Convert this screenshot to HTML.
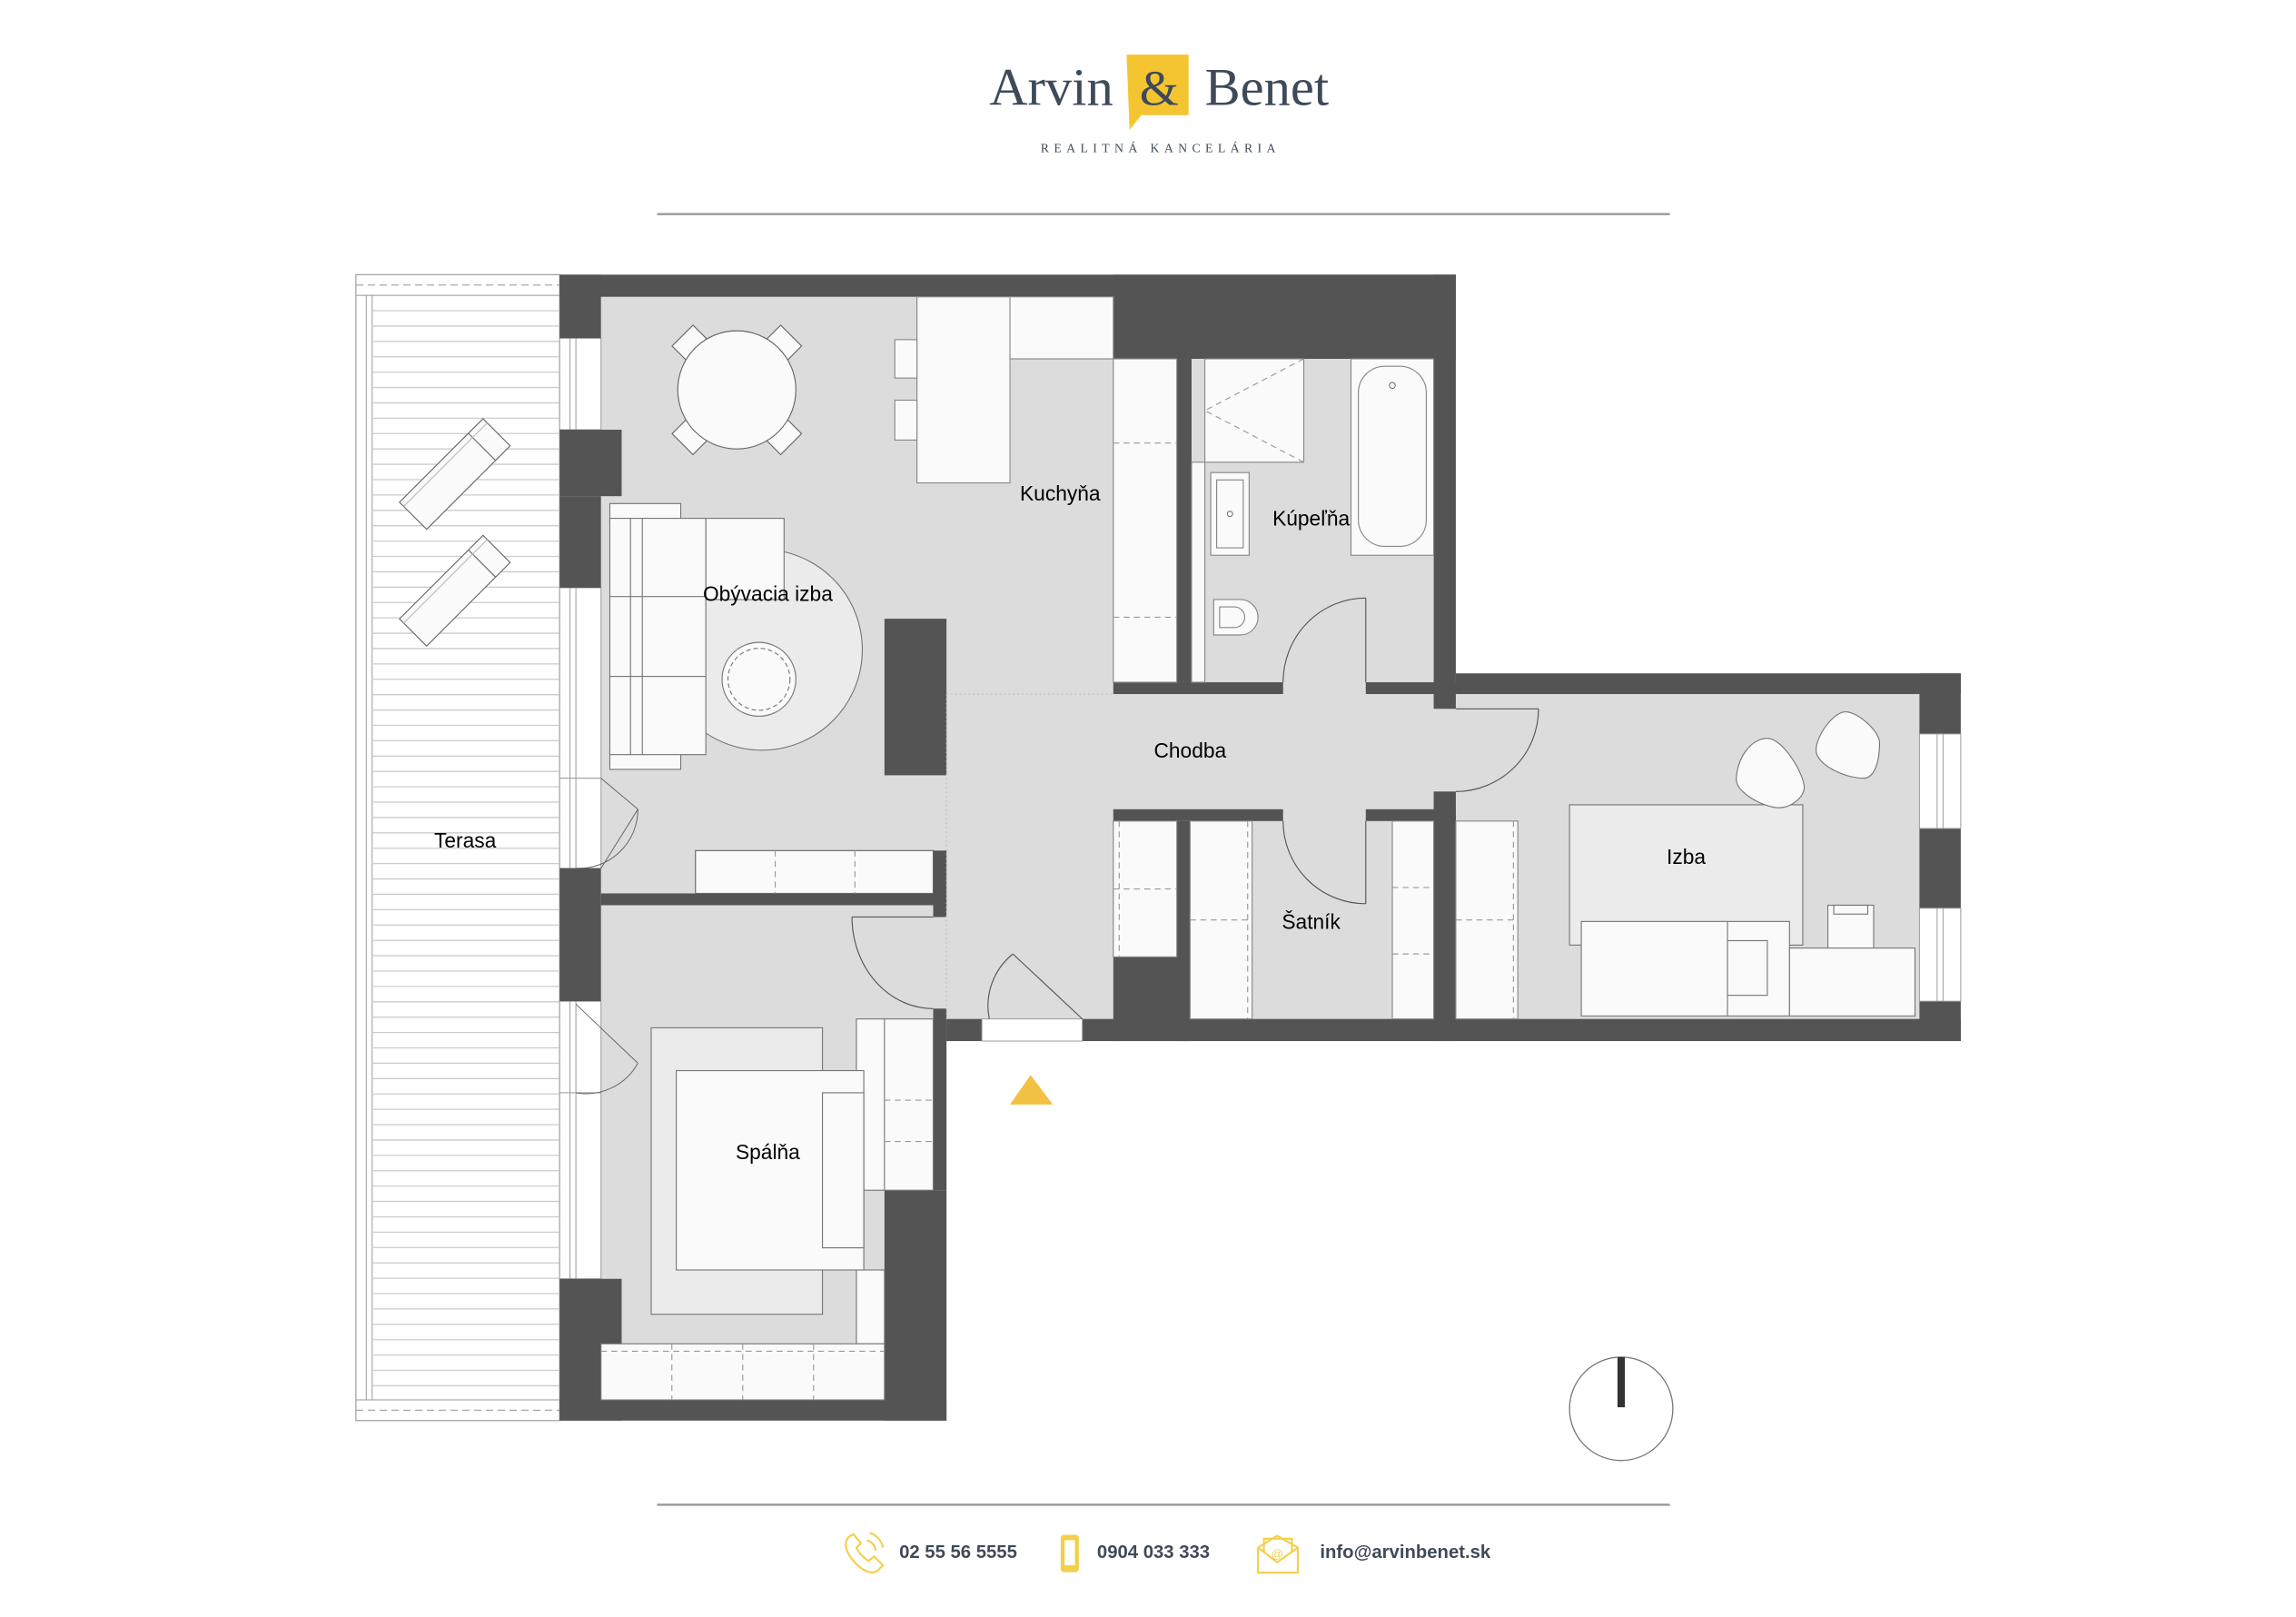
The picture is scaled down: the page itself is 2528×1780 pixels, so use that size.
<!DOCTYPE html>
<html><head><meta charset="utf-8"><style>
html,body{margin:0;padding:0;background:#fff}
svg{display:block}
</style></head><body>
<svg width="2528" height="1780" viewBox="0 0 1555 1095" xmlns="http://www.w3.org/2000/svg">
<rect width="1555" height="1095" fill="#fff"/>
<!-- Logo -->
<path d="M763 37 H805 V78 H773 L765 88 Z" fill="#f5c531"/>
<text x="712" y="71" font-family="Liberation Serif, serif" font-size="36" fill="#3e4a59" text-anchor="middle">Arvin</text>
<text x="785" y="71" font-family="Liberation Serif, serif" font-size="34" fill="#3e4a59" text-anchor="middle">&amp;</text>
<text x="858" y="71" font-family="Liberation Serif, serif" font-size="36" fill="#3e4a59" text-anchor="middle">Benet</text>
<text x="786" y="103" font-family="Liberation Serif, serif" font-size="8.5" fill="#3e4a59" text-anchor="middle" letter-spacing="3.3">REALITNÁ KANCELÁRIA</text>
<line x1="445" y1="145" x2="1131" y2="145" stroke="#999" stroke-width="1.5"/>

<!-- Terrace -->
<rect x="241" y="186" width="138" height="776" fill="#fff" stroke="#999" stroke-width="0.7"/>
<line x1="248" y1="200" x2="248" y2="948" stroke="#999" stroke-width="0.6"/>
<line x1="252" y1="200" x2="252" y2="948" stroke="#999" stroke-width="0.6"/>
<line x1="241" y1="200" x2="379" y2="200" stroke="#999" stroke-width="0.6"/>
<line x1="241" y1="948" x2="379" y2="948" stroke="#999" stroke-width="0.6"/>
<line x1="241" y1="193" x2="379" y2="193" stroke="#aaa" stroke-width="0.8" stroke-dasharray="5 3"/>
<line x1="241" y1="955" x2="379" y2="955" stroke="#aaa" stroke-width="0.8" stroke-dasharray="5 3"/>
<g stroke="#ccc" stroke-width="0.8">
<path d="M252 210.4H379M252 220.8H379M252 231.2H379M252 241.6H379M252 252H379M252 262.4H379M252 272.8H379M252 283.2H379M252 293.6H379M252 304H379M252 314.4H379M252 324.8H379M252 335.2H379M252 345.6H379M252 356H379M252 366.4H379M252 376.8H379M252 387.2H379M252 397.6H379M252 408H379M252 418.4H379M252 428.8H379M252 439.2H379M252 449.6H379M252 460H379M252 470.4H379M252 480.8H379M252 491.2H379M252 501.6H379M252 512H379M252 522.4H379M252 532.8H379M252 543.2H379M252 553.6H379M252 564H379M252 574.4H379M252 584.8H379M252 595.2H379M252 605.6H379M252 616H379M252 626.4H379M252 636.8H379M252 647.2H379M252 657.6H379M252 668H379M252 678.4H379M252 688.8H379M252 699.2H379M252 709.6H379M252 720H379M252 730.4H379M252 740.8H379M252 751.2H379M252 761.6H379M252 772H379M252 782.4H379M252 792.8H379M252 803.2H379M252 813.6H379M252 824H379M252 834.4H379M252 844.8H379M252 855.2H379M252 865.6H379M252 876H379M252 886.4H379M252 896.8H379M252 907.2H379M252 917.6H379M252 928H379M252 938.4H379"/>
</g>
<g fill="#fafafa" stroke="#666" stroke-width="0.7">
<g transform="translate(308,321) rotate(-45)"><rect x="-40" y="-13" width="80" height="26"/><line x1="26" y1="-13" x2="26" y2="13"/><line x1="-40" y1="-9" x2="40" y2="-9" stroke="#bbb"/></g>
<g transform="translate(308,400) rotate(-45)"><rect x="-40" y="-13" width="80" height="26"/><line x1="26" y1="-13" x2="26" y2="13"/><line x1="-40" y1="-9" x2="40" y2="-9" stroke="#bbb"/></g>
</g>
<text x="315" y="574" font-family="Liberation Sans, sans-serif" font-size="14" fill="#000" text-anchor="middle">Terasa</text>

<!-- Floor -->
<path d="M407 201 H754 V243 H971 V470 H1300 V690 H641 V948 H407 Z" fill="#dcdcdc"/>

<!-- Left windows -->
<g fill="#fff" stroke="#999" stroke-width="0.6">
<rect x="379" y="229" width="28" height="62"/>
<rect x="379" y="398" width="28" height="129"/>
<rect x="379" y="527" width="28" height="61"/>
<rect x="379" y="678" width="28" height="62"/>
<rect x="379" y="740" width="28" height="126"/>
</g>
<g stroke="#999" stroke-width="0.6">
<line x1="386" y1="229" x2="386" y2="291"/><line x1="390" y1="229" x2="390" y2="291"/>
<line x1="386" y1="398" x2="386" y2="866"/><line x1="390" y1="398" x2="390" y2="866"/>
</g>
<!-- terrace doors -->
<g fill="none" stroke="#666" stroke-width="0.6">
<path d="M407 527 L432 548 L407 588"/><path d="M432 548 A40 40 0 0 1 390 588"/>
<path d="M390 680 L432 720 M432 720 A40 40 0 0 1 390 740"/>
</g>

<!-- Walls -->
<g fill="#545454">
<rect x="379" y="186" width="607" height="15"/>
<rect x="754" y="186" width="232" height="57"/>
<rect x="971" y="186" width="15" height="284"/>
<rect x="379" y="186" width="28" height="43"/>
<rect x="379" y="291" width="42" height="45"/>
<rect x="379" y="336" width="28" height="62"/>
<rect x="379" y="588" width="28" height="90"/>
<rect x="379" y="866" width="42" height="96"/>
<rect x="379" y="948" width="262" height="14"/>
<rect x="599" y="806" width="42" height="156"/>
<rect x="632" y="576" width="9" height="45"/>
<rect x="632" y="683" width="9" height="123"/>
<rect x="407" y="605" width="234" height="8"/>
<rect x="599" y="419" width="42" height="106"/>
<rect x="641" y="690" width="24" height="15"/>
<rect x="733" y="690" width="595" height="15"/>
<rect x="797" y="243" width="10" height="219"/>
<rect x="754" y="462" width="115" height="8"/>
<rect x="925" y="462" width="61" height="8"/>
<rect x="986" y="456" width="342" height="14"/>
<rect x="971" y="462" width="15" height="18"/>
<rect x="971" y="536" width="15" height="169"/>
<rect x="754" y="548" width="115" height="8"/>
<rect x="925" y="548" width="61" height="8"/>
<rect x="797" y="556" width="9" height="149"/>
<rect x="754" y="648" width="52" height="57"/>
<rect x="1300" y="456" width="28" height="41"/>
<rect x="1300" y="561" width="28" height="54"/>
<rect x="1300" y="678" width="28" height="27"/>
</g>
<g fill="#fff" stroke="#999" stroke-width="0.6">
<rect x="1300" y="497" width="28" height="64"/>
<rect x="1300" y="615" width="28" height="63"/>
<line x1="1312" y1="497" x2="1312" y2="561"/><line x1="1316" y1="497" x2="1316" y2="561"/>
<line x1="1312" y1="615" x2="1312" y2="678"/><line x1="1316" y1="615" x2="1316" y2="678"/>
<rect x="665" y="690" width="68" height="15"/>
</g>

<!-- Doors -->
<g fill="none" stroke="#555" stroke-width="0.7">
<path d="M577 621 H632 M577 621 A55 62 0 0 0 632 683"/>
<path d="M733 690 L686 646 M686 646 A45 45 0 0 0 670 690"/>
<path d="M925 462 V405 M925 405 A56 57 0 0 0 869 462"/>
<path d="M925 556 V612 M925 612 A56 56 0 0 1 869 556"/>
<path d="M986 480 H1042 M1042 480 A56 56 0 0 1 986 536"/>
<path d="M641 470 V690" stroke="#bbb" stroke-dasharray="1 2"/>
<path d="M641 470 H754" stroke="#bbb" stroke-dasharray="1 2"/>
</g>
<polygon points="684,748 698,728 713,748" fill="#f2c042"/>

<!-- Kitchen -->
<g fill="#fafafa" stroke="#888" stroke-width="0.7">
<rect x="621" y="201" width="63" height="126"/>
<rect x="684" y="201" width="70" height="42"/>
<rect x="606" y="230" width="15" height="26"/>
<rect x="606" y="271" width="15" height="27"/>
<rect x="754" y="243" width="43" height="219"/>
</g>
<g stroke="#999" stroke-width="0.7" stroke-dasharray="4 3" fill="none">
<line x1="684" y1="201" x2="684" y2="327"/>
<line x1="754" y1="300" x2="797" y2="300"/>
<line x1="754" y1="418" x2="797" y2="418"/>
</g>
<text x="718" y="339" font-family="Liberation Sans, sans-serif" font-size="14" text-anchor="middle">Kuchyňa</text>

<!-- Bathroom -->
<g fill="#fafafa" stroke="#888" stroke-width="0.7">
<rect x="807" y="313" width="9" height="149"/>
<rect x="816" y="243" width="67" height="70"/>
<rect x="915" y="243" width="56" height="133"/>
<rect x="920" y="248" width="46" height="122" rx="18"/>
<rect x="820" y="320" width="26" height="56"/>
<rect x="824" y="325" width="18" height="46"/>
<path d="M822 406 H840 A12 12 0 0 1 840 430 H822 Z"/>
<path d="M826 411 H836 A7 7 0 0 1 836 425 H826 Z"/>
</g>
<circle cx="943" cy="261" r="2" fill="none" stroke="#666" stroke-width="0.6"/>
<circle cx="833" cy="348" r="1.8" fill="none" stroke="#666" stroke-width="0.6"/>
<path d="M883 243 L816 278 L883 313" fill="none" stroke="#999" stroke-width="0.7" stroke-dasharray="4 3"/>
<text x="888" y="356" font-family="Liberation Sans, sans-serif" font-size="14" text-anchor="middle">Kúpeľňa</text>

<!-- Living -->
<g stroke="#777" stroke-width="0.7">
<circle cx="516" cy="440" r="68" fill="#ebebeb"/>
<rect x="413" y="341" width="48" height="13" fill="#fafafa"/>
<rect x="413" y="508" width="48" height="13" fill="#fafafa"/>
<rect x="478" y="351" width="53" height="55" fill="#fafafa"/>
<rect x="413" y="351" width="65" height="160" fill="#fafafa"/>
<line x1="427" y1="351" x2="427" y2="511"/><line x1="435" y1="351" x2="435" y2="511"/>
<line x1="413" y1="404" x2="478" y2="404"/><line x1="413" y1="458" x2="478" y2="458"/>
<circle cx="514" cy="460" r="25" fill="#fafafa"/>
<circle cx="514" cy="460" r="21" fill="none" stroke-dasharray="3 2"/>
</g>
<g fill="#fafafa" stroke="#666" stroke-width="0.7">
<g transform="translate(499,264)">
<g transform="rotate(45)"><rect x="-10" y="-52" width="20" height="16"/></g>
<g transform="rotate(135)"><rect x="-10" y="-52" width="20" height="16"/></g>
<g transform="rotate(225)"><rect x="-10" y="-52" width="20" height="16"/></g>
<g transform="rotate(315)"><rect x="-10" y="-52" width="20" height="16"/></g>
<circle r="40"/>
</g>
<rect x="471" y="576" width="161" height="29"/>
</g>
<g stroke="#999" stroke-width="0.7" stroke-dasharray="4 3">
<line x1="525" y1="576" x2="525" y2="605"/><line x1="579" y1="576" x2="579" y2="605"/>
</g>
<text x="520" y="407" font-family="Liberation Sans, sans-serif" font-size="14" text-anchor="middle">Obývacia izba</text>
<text x="806" y="513" font-family="Liberation Sans, sans-serif" font-size="14" text-anchor="middle">Chodba</text>

<!-- Šatník -->
<g fill="#fafafa" stroke="#888" stroke-width="0.7">
<rect x="754" y="556" width="43" height="92"/>
<rect x="806" y="556" width="42" height="134"/>
<rect x="943" y="556" width="28" height="134"/>
<rect x="986" y="556" width="42" height="134"/>
</g>
<g stroke="#999" stroke-width="0.7" stroke-dasharray="4 3" fill="none">
<line x1="754" y1="602" x2="797" y2="602"/><line x1="758" y1="556" x2="758" y2="648"/>
<line x1="806" y1="623" x2="848" y2="623"/><line x1="845" y1="556" x2="845" y2="690"/>
<line x1="943" y1="601" x2="971" y2="601"/><line x1="943" y1="646" x2="971" y2="646"/>
<line x1="986" y1="623" x2="1028" y2="623"/><line x1="1025" y1="556" x2="1025" y2="690"/>
</g>
<text x="888" y="629" font-family="Liberation Sans, sans-serif" font-size="14" text-anchor="middle">Šatník</text>

<!-- Izba -->
<g stroke="#777" stroke-width="0.7">
<rect x="1063" y="545" width="158" height="95" fill="#ebebeb"/>
<rect x="1071" y="624" width="141" height="64" fill="#fafafa"/>
<line x1="1170" y1="624" x2="1170" y2="688"/>
<rect x="1170" y="637" width="27" height="37" fill="#fafafa"/>
<rect x="1238" y="613" width="31" height="30" fill="#fafafa"/>
<rect x="1242" y="613" width="23" height="6" fill="#fafafa"/>
<rect x="1212" y="642" width="85" height="46" fill="#fafafa"/>
<path d="M1197 500 C1208 500 1222 525 1222 533 C1222 540 1213 547 1205 547 C1195 547 1176 537 1176 528 C1176 515 1185 500 1197 500 Z" fill="#fafafa"/>
<path d="M1250 482 C1258 482 1273 495 1273 503 C1273 515 1270 527 1262 527 C1250 527 1230 518 1230 508 C1230 498 1242 482 1250 482 Z" fill="#fafafa"/>
</g>
<text x="1142" y="585" font-family="Liberation Sans, sans-serif" font-size="14" text-anchor="middle">Izba</text>

<!-- Bedroom -->
<g stroke="#777" stroke-width="0.7">
<rect x="441" y="696" width="116" height="194" fill="#ebebeb"/>
<rect x="580" y="690" width="52" height="116" fill="#fafafa"/>
<rect x="580" y="860" width="19" height="50" fill="#fafafa"/>
<line x1="599" y1="690" x2="599" y2="806"/>
<rect x="458" y="725" width="127" height="135" fill="#fafafa"/>
<rect x="557" y="740" width="28" height="105" fill="#fafafa"/>
<rect x="407" y="910" width="192" height="38" fill="#fafafa"/>
</g>
<g stroke="#999" stroke-width="0.7" stroke-dasharray="4 3">
<line x1="599" y1="745" x2="632" y2="745"/><line x1="599" y1="773" x2="632" y2="773"/>
<line x1="407" y1="915" x2="599" y2="915"/>
<line x1="455" y1="910" x2="455" y2="948"/><line x1="503" y1="910" x2="503" y2="948"/><line x1="551" y1="910" x2="551" y2="948"/>
</g>
<text x="520" y="785" font-family="Liberation Sans, sans-serif" font-size="14" text-anchor="middle">Spálňa</text>

<!-- Compass -->
<circle cx="1098" cy="954" r="35" fill="none" stroke="#777" stroke-width="0.8"/>
<line x1="1098" y1="919" x2="1098" y2="953" stroke="#333" stroke-width="5"/>

<!-- Footer -->
<line x1="445" y1="1019" x2="1131" y2="1019" stroke="#999" stroke-width="1.5"/>
<g fill="none" stroke="#f3cf4a" stroke-width="1.3">
<path d="M576 1040 C571 1043 572 1050 578 1057 C584 1064 591 1067 595 1063 L598 1060 L592 1054 L588 1057 C585 1055 581 1051 580 1048 L583 1045 L578 1039 Z"/>
<path d="M587 1043 A8 8 0 0 1 593 1050 M589 1038 A13 13 0 0 1 598 1048"/>
<rect x="719" y="1040" width="11" height="24" rx="1.5"/>
<path d="M852 1048 L865 1040 L879 1048 V1065 H852 Z M852 1048 L865 1058 L879 1048"/>
<path d="M856 1051 V1042 H875 V1051"/>
</g>
<rect x="719" y="1040" width="11" height="24" rx="1.5" fill="#f3cf4a"/>
<rect x="721" y="1043" width="7" height="17" fill="#fff"/>
<text x="865" y="1055" font-family="Liberation Sans, sans-serif" font-size="8" fill="#f3cf4a" text-anchor="middle">@</text>
<g font-family="Liberation Sans, sans-serif" font-size="12.5" fill="#3e4a59" font-weight="bold">
<text x="609" y="1055">02 55 56 5555</text>
<text x="743" y="1055">0904 033 333</text>
<text x="894" y="1055">info@arvinbenet.sk</text>
</g>
</svg>
</body></html>
